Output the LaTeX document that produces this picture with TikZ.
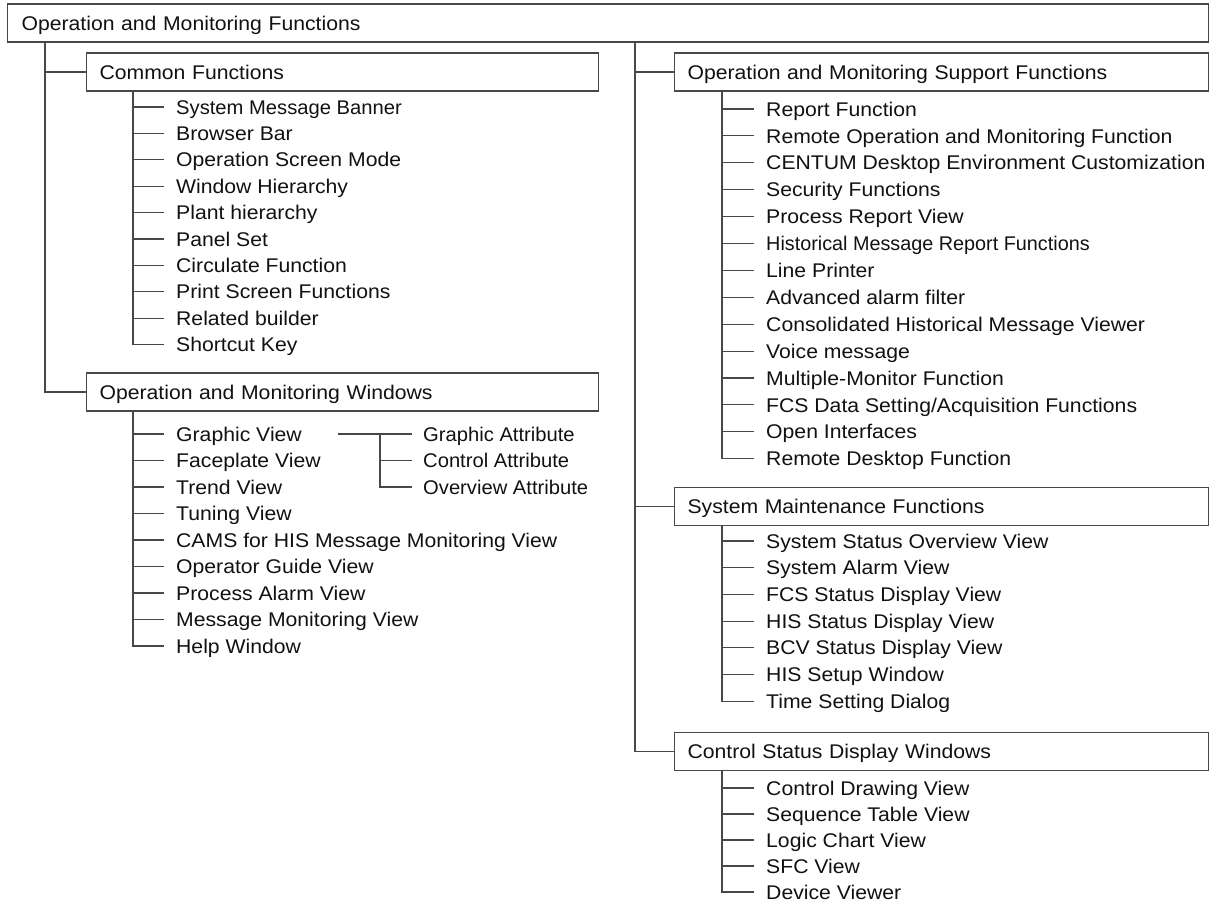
\documentclass[tikz,border=0pt]{standalone}
\usepackage{fontspec}
\setmainfont{Liberation Sans}[FakeStretch=1.07]
% narrower cuts of the same face for the labels that are set tighter
\newfontfamily\fnarrow{Liberation Sans}[FakeStretch=1.0]
\newfontfamily\fbanner{Liberation Sans}[FakeStretch=1.02]
\definecolor{lc}{RGB}{72,72,72}
\definecolor{tc}{RGB}{17,17,17}
\begin{document}
\begin{tikzpicture}[x=1pt,y=-1pt,
  lnk/.style={draw=lc, line width=1.1pt},
  grp/.style={draw=lc, line width=1.1pt, anchor=west, minimum height=38pt,
    inner xsep=13pt, inner ysep=0pt, align=left, text=tc,
    text height=14.2pt, text depth=0pt},
  leaf/.style={anchor=west, inner sep=0pt, text=tc, text height=14.2pt, text depth=0pt},
  font=\fontsize{19.8}{24}\selectfont]
\useasboundingbox (0,0) rectangle (1217,903);

% root
\node[grp, inner xsep=14pt, text width=1173pt] (root) at (7,23) {Operation and Monitoring Functions};
\coordinate (lt) at ([xshift=38pt]root.south west);
\coordinate (rt) at ([xshift=628pt]root.south west);

% second level groups
\node[grp, text width=486pt] (cf) at (86,72) {Common Functions};
\node[grp, text width=486pt] (win) at (86,392) {Operation and Monitoring Windows};
\node[grp, text width=508pt] (sup) at (674,72) {Operation and Monitoring Support Functions};
\node[grp, text width=508pt] (sys) at (674,506.5) {System Maintenance Functions};
\node[grp, text width=508pt] (csd) at (674,751.5) {Control Status Display Windows};

% trunks from the root
\draw[lnk] (lt) |- (win.west);
\draw[lnk] (lt |- cf.west) -- (cf.west);
\draw[lnk] (rt) |- (csd.west);
\draw[lnk] (rt |- sup.west) -- (sup.west);
\draw[lnk] (rt |- sys.west) -- (sys.west);

% Common Functions
\foreach \t [count=\i] in {{\fbanner System Message Banner}, Browser Bar, Operation Screen Mode,
  Window Hierarchy, Plant hierarchy, Panel Set, Circulate Function,
  Print Screen Functions, Related builder, Shortcut Key}
  \node[leaf] (cf\i) at (176,{107+26.4*(\i-1)}) {\t};
\coordinate (cft) at ([xshift=47pt]cf.south west);
\draw[lnk] (cft) |- ([xshift=-12pt]cf10.west);
\foreach \i in {1,...,9} \draw[lnk] (cft |- cf\i.west) -- ([xshift=-12pt]cf\i.west);

% Operation and Monitoring Windows
\foreach \t [count=\i] in {Graphic View, Faceplate View, Trend View, Tuning View,
  CAMS for HIS Message Monitoring View, Operator Guide View, Process Alarm View,
  Message Monitoring View, Help Window}
  \node[leaf] (wn\i) at (176,{434+26.5*(\i-1)}) {\t};
\coordinate (wnt) at ([xshift=47pt]win.south west);
\draw[lnk] (wnt) |- ([xshift=-12pt]wn9.west);
\foreach \i in {1,...,8} \draw[lnk] (wnt |- wn\i.west) -- ([xshift=-12pt]wn\i.west);

% Graphic View attributes
\node[leaf, font=\fontsize{19.8}{24}\fbanner] (ga) at (423,434) {Graphic Attribute};
\node[leaf, font=\fontsize{19.8}{24}\fbanner] (ca) at (423,460.5) {Control Attribute};
\node[leaf, font=\fontsize{19.8}{24}\fbanner] (oa) at (423,487) {Overview Attribute};
\coordinate (gvs) at (338,434);
\coordinate (gvt) at (380,434);
\draw[lnk] (gvs) -- ([xshift=-11pt]ga.west);
\draw[lnk] (gvt) |- ([xshift=-11pt]oa.west);
\draw[lnk] (gvt |- ca.west) -- ([xshift=-11pt]ca.west);

% Operation and Monitoring Support Functions
\foreach \t [count=\i] in {Report Function, Remote Operation and Monitoring Function,
  CENTUM Desktop Environment Customization, Security Functions, Process Report View,
  {\fnarrow Historical Message Report Functions}, Line Printer, Advanced alarm filter,
  Consolidated Historical Message Viewer, Voice message, Multiple-Monitor Function,
  FCS Data Setting/Acquisition Functions, Open Interfaces, Remote Desktop Function}
  \node[leaf] (sp\i) at (766,{109+26.9*(\i-1)}) {\t};
\coordinate (spt) at ([xshift=48pt]sup.south west);
\draw[lnk] (spt) |- ([xshift=-12pt]sp14.west);
\foreach \i in {1,...,13} \draw[lnk] (spt |- sp\i.west) -- ([xshift=-12pt]sp\i.west);

% System Maintenance Functions
\foreach \t [count=\i] in {System Status Overview View, System Alarm View,
  FCS Status Display View, HIS Status Display View, BCV Status Display View,
  HIS Setup Window, Time Setting Dialog}
  \node[leaf] (sm\i) at (766,{541+26.7*(\i-1)}) {\t};
\coordinate (smt) at ([xshift=48pt]sys.south west);
\draw[lnk] (smt) |- ([xshift=-12pt]sm7.west);
\foreach \i in {1,...,6} \draw[lnk] (smt |- sm\i.west) -- ([xshift=-12pt]sm\i.west);

% Control Status Display Windows
\foreach \t [count=\i] in {Control Drawing View, Sequence Table View,
  Logic Chart View, SFC View, Device Viewer}
  \node[leaf] (cs\i) at (766,{788+26*(\i-1)}) {\t};
\coordinate (cst) at ([xshift=48pt]csd.south west);
\draw[lnk] (cst) |- ([xshift=-12pt]cs5.west);
\foreach \i in {1,...,4} \draw[lnk] (cst |- cs\i.west) -- ([xshift=-12pt]cs\i.west);
\end{tikzpicture}
\end{document}
